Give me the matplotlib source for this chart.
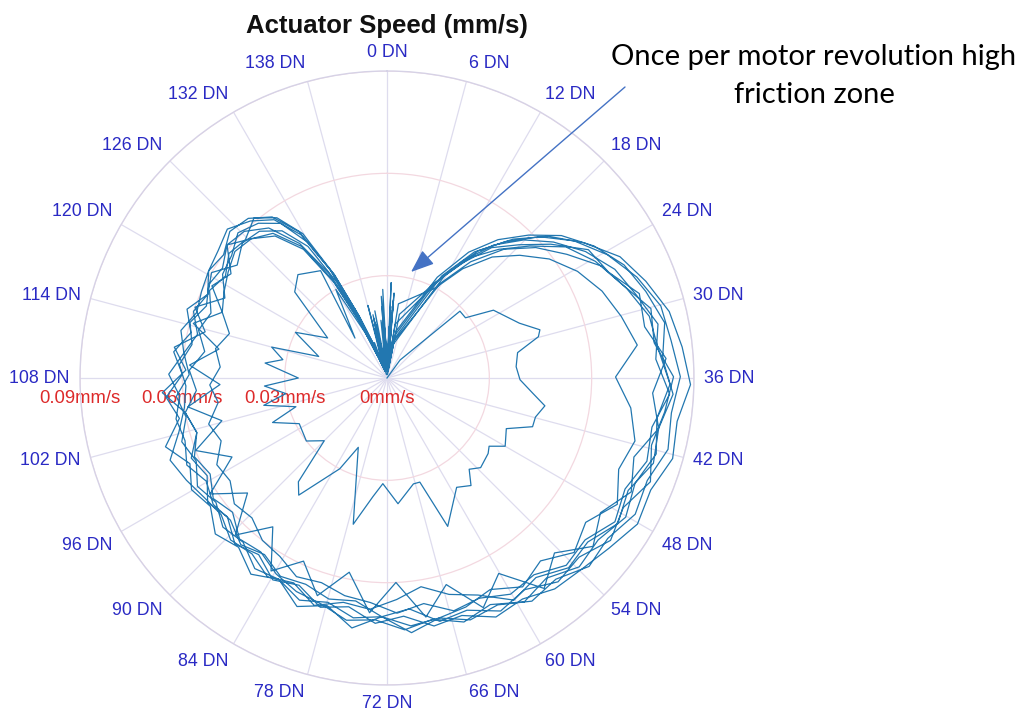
import numpy as np
import matplotlib
matplotlib.use('Agg')
import matplotlib.pyplot as plt

# ---------------- data ----------------
TITLE = 'Actuator Speed (mm/s)'
ANNOT = 'Once per motor revolution high\nfriction zone'
DN_PER_REV = 144
angle_ticks_dn = list(range(0, 144, 6))
angle_labels = [f'{d} DN' for d in angle_ticks_dn]
r_ticks = [0, 0.03, 0.06, 0.09]
r_labels = ['0mm/s', '0.03mm/s', '0.06mm/s', '0.09mm/s']
RMAX = 0.09

# first (slow) revolution: position (DN) and speed (mm/s)
pos_rev0 = [10.0, 14.4, 19.0, 21.0, 23.0, 27.0, 29.0, 29.9, 31.6, 34.0,
            36.3, 38.4, 40.0, 41.9, 43.4, 45.2, 48.0, 49.5, 50.7, 53.5,
            55.2, 56.8, 59.0, 63.1, 65.0, 66.4, 70.0, 72.9, 74.7, 77.2,
            81.0, 83.0, 86.8, 88.2, 90.0, 92.8, 97.0, 99.5, 101.0, 103.0,
            104.5, 106.5, 108.0, 110.8, 112.0, 114.0, 115.0, 118.6, 121.6, 125.2,
            127.7, 131.3, 128.5, 132.0, 134.5, 137.0, 139.0, 141.0, 143.0]
spd_rev0 = [0.000, 0.0065, 0.029, 0.029, 0.037, 0.042, 0.047, 0.046, 0.039, 0.038,
            0.039, 0.043, 0.047, 0.045, 0.045, 0.038, 0.040, 0.036, 0.037, 0.038,
            0.036, 0.040, 0.038, 0.047, 0.032, 0.032, 0.037, 0.031, 0.035, 0.044,
            0.022, 0.030, 0.043, 0.040, 0.026, 0.030, 0.029, 0.036, 0.028, 0.037,
            0.030, 0.036, 0.026, 0.036, 0.031, 0.035, 0.021, 0.030, 0.021, 0.037,
            0.040, 0.037, 0.015, 0.030, 0.012, 0.003, 0.014, 0.002, 0.010]

# sample positions (DN within a revolution) for the full-speed revolutions
pos_a = [0.4, 1.2, 2.2, 3.5, 11.3, 13.9, 16.4, 18.9, 21.5, 24.3,
         27.2, 30.1, 33.0, 35.9, 38.8, 41.7, 44.6, 47.5, 50.4, 53.2,
         56.0, 58.8, 61.6, 64.4, 67.1, 69.8, 72.5, 75.2, 77.9, 80.6,
         83.3, 85.9, 88.5, 91.1, 93.6, 96.1, 98.6, 101.1, 103.6, 106.0,
         108.4, 110.8, 113.2, 115.6, 118.0, 120.4, 122.8, 125.2, 127.6, 129.8,
         131.6, 132.9, 134.0, 135.3, 137.2, 139.0, 140.8, 142.4]
pos_b = [0.9, 1.9, 3.0, 4.4, 10.6, 13.2, 15.5, 17.9, 20.3, 23.0,
         25.8, 28.6, 31.5, 34.4, 37.3, 40.2, 43.1, 46.0, 48.9, 51.7,
         54.5, 57.3, 60.1, 62.9, 65.6, 68.3, 71.0, 73.7, 76.4, 79.1,
         81.8, 84.4, 87.0, 89.6, 92.2, 94.7, 97.2, 99.7, 102.2, 104.7,
         107.1, 109.5, 111.9, 114.3, 116.7, 119.1, 121.5, 123.9, 126.3, 128.7,
         130.8, 132.4, 133.6, 134.7, 136.2, 138.1, 139.9, 141.6]
pos_c = [0.2, 1.0, 1.8, 2.9, 11.8, 14.3, 16.9, 19.5, 22.2, 25.0,
         27.8, 30.7, 33.6, 36.5, 39.4, 42.3, 45.2, 48.1, 51.0, 53.8,
         56.6, 59.4, 62.2, 65.0, 67.7, 70.4, 73.1, 75.8, 78.5, 81.2,
         83.8, 86.4, 89.0, 91.6, 94.1, 96.6, 99.1, 101.6, 104.1, 106.5,
         108.9, 111.3, 113.7, 116.1, 118.5, 120.9, 123.3, 125.7, 128.1, 130.2,
         131.9, 133.2, 134.3, 135.6, 137.6, 139.5, 141.3, 142.9]

spd_rev1 = [0.003, 0.021, 0.002, 0.011, 0.034, 0.045, 0.053, 0.061, 0.068, 0.074,
            0.079, 0.083, 0.084, 0.086, 0.084, 0.085, 0.082, 0.083, 0.080, 0.081,
            0.077, 0.078, 0.074, 0.075, 0.072, 0.073, 0.070, 0.071, 0.068, 0.070,
            0.067, 0.068, 0.064, 0.065, 0.062, 0.064, 0.061, 0.063, 0.060, 0.062,
            0.058, 0.060, 0.057, 0.060, 0.058, 0.061, 0.060, 0.063, 0.062, 0.058,
            0.050, 0.036, 0.022, 0.009, 0.004, 0.017, 0.002, 0.024]
spd_rev2 = [0.005, 0.013, 0.001, 0.019, 0.031, 0.040, 0.049, 0.055, 0.062, 0.070,
            0.072, 0.078, 0.077, 0.082, 0.078, 0.081, 0.076, 0.079, 0.074, 0.078,
            0.071, 0.077, 0.066, 0.073, 0.063, 0.071, 0.060, 0.069, 0.058, 0.067,
            0.059, 0.066, 0.055, 0.064, 0.053, 0.062, 0.051, 0.060, 0.050, 0.059,
            0.049, 0.058, 0.050, 0.059, 0.052, 0.058, 0.055, 0.061, 0.057, 0.054,
            0.046, 0.033, 0.019, 0.007, 0.011, 0.002, 0.020, 0.003]
spd_rev3 = [0.002, 0.028, 0.004, 0.009, 0.035, 0.046, 0.055, 0.063, 0.070, 0.077,
            0.081, 0.085, 0.087, 0.089, 0.086, 0.087, 0.084, 0.085, 0.082, 0.080,
            0.079, 0.076, 0.077, 0.073, 0.074, 0.070, 0.072, 0.068, 0.070, 0.066,
            0.068, 0.064, 0.066, 0.062, 0.064, 0.060, 0.062, 0.058, 0.060, 0.056,
            0.058, 0.054, 0.057, 0.055, 0.058, 0.056, 0.059, 0.058, 0.061, 0.057,
            0.049, 0.034, 0.020, 0.010, 0.002, 0.013, 0.004, 0.015]
spd_rev4 = [0.004, 0.017, 0.003, 0.022, 0.030, 0.039, 0.047, 0.053, 0.059, 0.064,
            0.068, 0.071, 0.074, 0.067, 0.072, 0.075, 0.073, 0.077, 0.072, 0.075,
            0.070, 0.073, 0.069, 0.071, 0.072, 0.075, 0.070, 0.074, 0.069, 0.072,
            0.067, 0.070, 0.066, 0.068, 0.064, 0.066, 0.063, 0.068, 0.062, 0.065,
            0.060, 0.063, 0.059, 0.062, 0.058, 0.060, 0.055, 0.058, 0.057, 0.053,
            0.045, 0.032, 0.018, 0.008, 0.003, 0.019, 0.002, 0.012]
spd_rev5 = [0.002, 0.025, 0.002, 0.014, 0.033, 0.044, 0.052, 0.059, 0.066, 0.072,
            0.077, 0.080, 0.083, 0.081, 0.084, 0.081, 0.082, 0.078, 0.080, 0.076,
            0.077, 0.073, 0.075, 0.069, 0.066, 0.062, 0.065, 0.068, 0.067, 0.070,
            0.066, 0.068, 0.065, 0.066, 0.063, 0.064, 0.066, 0.068, 0.063, 0.060,
            0.059, 0.061, 0.058, 0.060, 0.057, 0.059, 0.058, 0.061, 0.060, 0.056,
            0.047, 0.035, 0.021, 0.008, 0.003, 0.022, 0.001, 0.017]
spd_rev6 = [0.006, 0.015, 0.003, 0.010, 0.032, 0.042, 0.051, 0.058, 0.064, 0.071,
            0.075, 0.079, 0.080, 0.083, 0.080, 0.082, 0.079, 0.081, 0.078, 0.079,
            0.075, 0.077, 0.073, 0.075, 0.072, 0.074, 0.071, 0.072, 0.069, 0.068,
            0.066, 0.063, 0.064, 0.060, 0.062, 0.059, 0.061, 0.058, 0.060, 0.066,
            0.059, 0.063, 0.055, 0.060, 0.053, 0.057, 0.058, 0.061, 0.059, 0.055,
            0.046, 0.034, 0.020, 0.009, 0.005, 0.016, 0.003, 0.026]
spd_rev7 = [0.003, 0.020, 0.004, 0.016, 0.033, 0.043, 0.050, 0.057, 0.065, 0.070,
            0.074, 0.080, 0.079, 0.084, 0.082, 0.080, 0.083, 0.079, 0.081, 0.077,
            0.078, 0.074, 0.076, 0.072, 0.073, 0.068, 0.070, 0.066, 0.067, 0.065,
            0.066, 0.063, 0.065, 0.062, 0.063, 0.061, 0.064, 0.062, 0.063, 0.061,
            0.064, 0.060, 0.062, 0.059, 0.060, 0.061, 0.062, 0.064, 0.061, 0.057,
            0.049, 0.036, 0.022, 0.010, 0.002, 0.018, 0.003, 0.021]
spd_rev8 = [0.004, 0.023, 0.002, 0.013, 0.031, 0.041, 0.050, 0.057, 0.063, 0.069,
            0.074, 0.077, 0.081, 0.079, 0.083, 0.079, 0.080, 0.077, 0.079, 0.075,
            0.076, 0.072, 0.073, 0.070, 0.071, 0.067, 0.069, 0.066, 0.065, 0.063,
            0.064, 0.061, 0.060, 0.057, 0.058, 0.055, 0.056, 0.052, 0.054, 0.050,
            0.052, 0.049, 0.051, 0.048, 0.052, 0.054, 0.056, 0.058, 0.057, 0.053,
            0.045, 0.032, 0.018, 0.007, 0.003, 0.011, 0.002, 0.009]

revolutions = [(pos_rev0, spd_rev0), (pos_a, spd_rev1), (pos_b, spd_rev2),
               (pos_c, spd_rev3), (pos_a, spd_rev4), (pos_b, spd_rev5),
               (pos_c, spd_rev6), (pos_a, spd_rev7), (pos_b, spd_rev8)]

# ---------------- figure ----------------
W, H = 1025, 717
fig = plt.figure(figsize=(W / 100, H / 100), dpi=100)
fig.patch.set_facecolor('white')
cx, cy, R = 387, 378, 307
ax = fig.add_axes([(cx - R) / W, (H - cy - R) / H, 2 * R / W, 2 * R / H],
                  projection='polar')
ax.set_theta_zero_location('N')
ax.set_theta_direction(-1)
ax.set_ylim(0, RMAX)

def dn2rad(d):
    return np.deg2rad(np.asarray(d, dtype=float) * 360.0 / DN_PER_REV)

# continuous trace: unwrap positions revolution by revolution
all_pos, all_spd = [], []
for k, (p, s) in enumerate(revolutions):
    assert len(p) == len(s)
    all_pos.extend(np.asarray(p) + k * DN_PER_REV)
    all_spd.extend(s)
ax.plot(dn2rad(all_pos), all_spd, color='#2277b0', lw=0.9, zorder=3)

# grid
ax.set_xticks(dn2rad(angle_ticks_dn))
ax.set_xticklabels([])
ax.set_yticks(r_ticks[1:])
ax.set_yticklabels([])
ax.xaxis.grid(True, color='#dedcee', lw=0.9)
ax.yaxis.grid(True, color='#f3d8e0', lw=0.9)
ax.spines['polar'].set_color('#d6d2e6')
ax.spines['polar'].set_linewidth(1.0)
ax.tick_params(length=0)

# angular labels
blue = '#2a2ac4'
pad = 10
for d, lab in zip(angle_ticks_dn, angle_labels):
    th = np.deg2rad(d * 360.0 / DN_PER_REV)
    s, c = np.sin(th), np.cos(th)
    ha = 'left' if s > 0.05 else ('right' if s < -0.05 else 'center')
    va = 'bottom' if c > 0.4 else ('top' if c < -0.4 else 'center')
    ax.annotate(lab, xy=(th, RMAX), xytext=(pad * s, pad * c),
                textcoords='offset pixels', ha=ha, va=va, fontsize=12.8,
                color=blue, family='Liberation Sans', annotation_clip=False)

# radial labels
red = '#dd2a2a'
th_lab = dn2rad(108)
for v, lab in zip(r_ticks, r_labels):
    ax.annotate(lab, xy=(th_lab, v), xytext=(0, -20), textcoords='offset pixels',
                ha='center', va='center', fontsize=13.3, color=red,
                family='Liberation Sans', annotation_clip=False, zorder=2)

# title
fig.text(cx / W, 1 - 33 / H, TITLE, ha='center', va='baseline', fontsize=18.5,
         fontweight='bold', family='Liberation Sans', color='#111111')

# annotation text and arrow
lines = ANNOT.split('\n')
fig.text(814 / W, 1 - 65 / H, lines[0], ha='center', va='baseline', fontsize=21,
         family='Lato', color='black')
fig.text(814 / W, 1 - 103 / H, lines[1], ha='center', va='baseline', fontsize=21,
         family='Lato', color='black')
ax.annotate('', xy=(411, H - 272), xycoords='figure pixels',
            xytext=(625, H - 87), textcoords='figure pixels',
            arrowprops=dict(arrowstyle='-|>,head_length=1.3,head_width=0.5',
                            color='#4472c4', lw=1.0, shrinkA=0, shrinkB=0,
                            mutation_scale=11),
            annotation_clip=False)

fig.savefig('out.png', dpi=100, facecolor='white')
